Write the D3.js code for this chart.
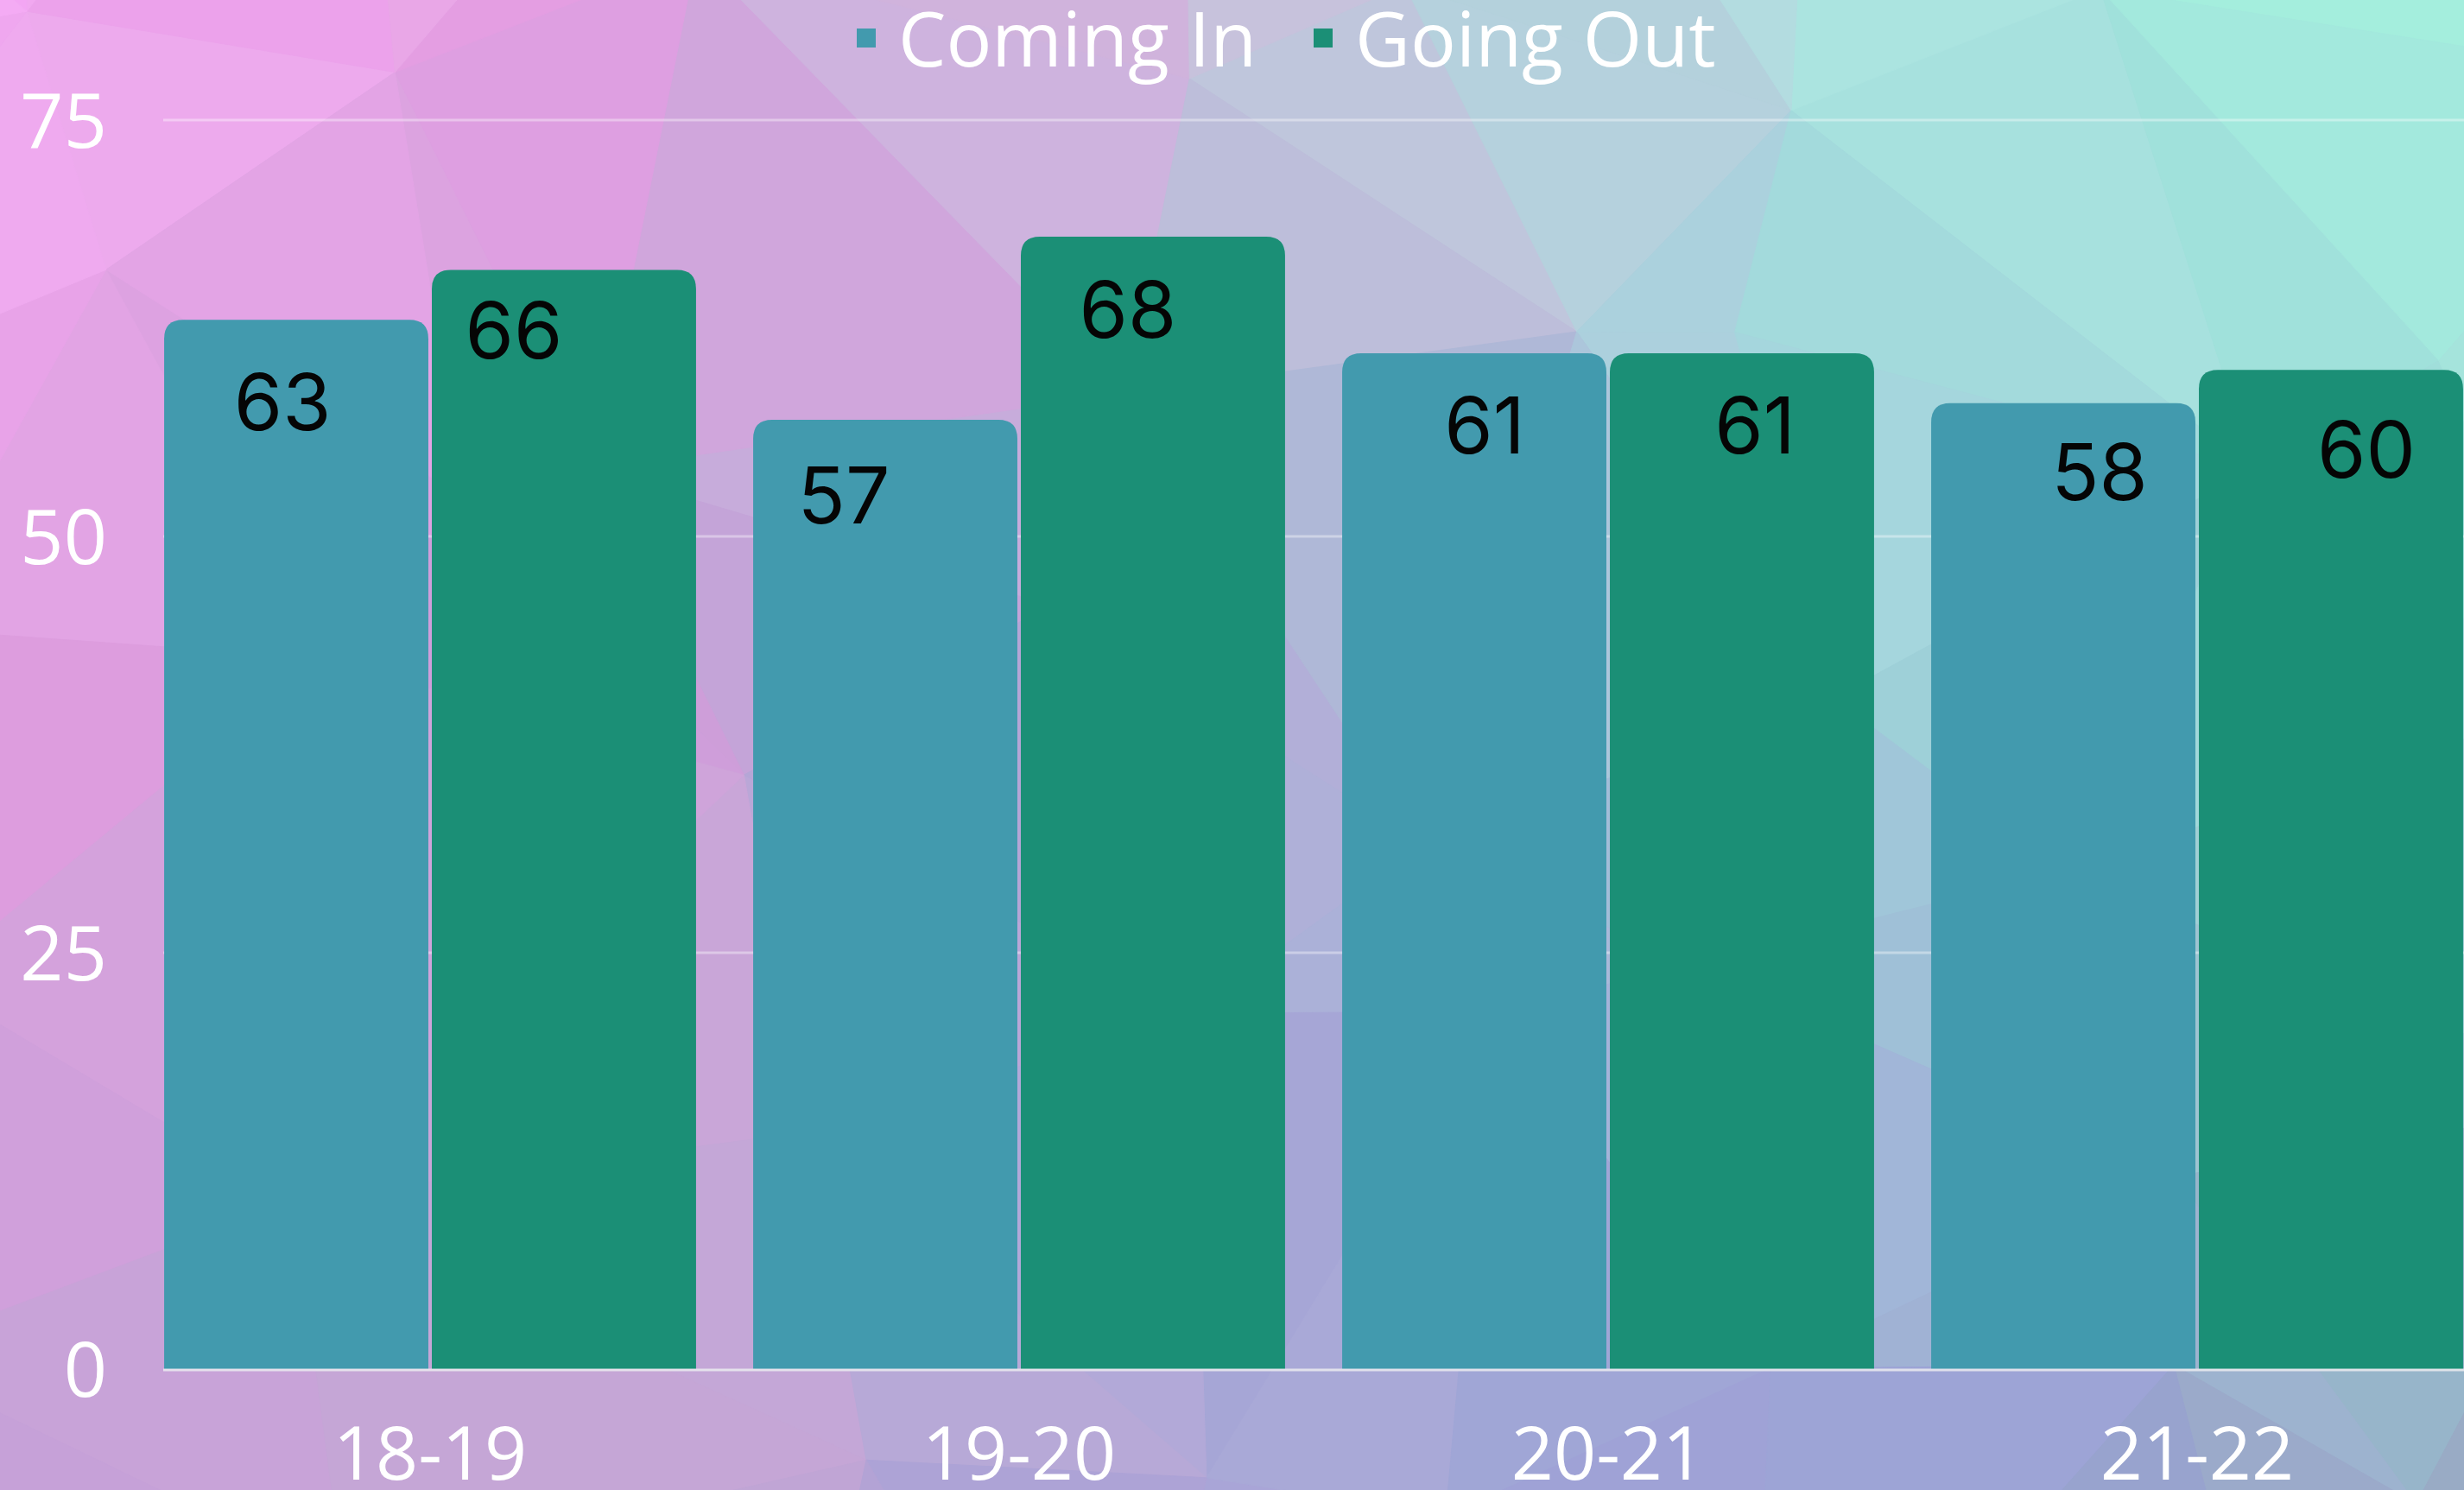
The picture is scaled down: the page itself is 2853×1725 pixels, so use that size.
<!DOCTYPE html>
<html>
<head>
<meta charset="utf-8">
<script src="https://cdn.jsdelivr.net/npm/d3@7"></script>
<style>
  html, body { margin: 0; padding: 0; overflow: hidden; }
  svg { display: block; }
</style>
</head>
<body>
<svg id="chart" width="2853" height="1725"></svg>
<script>
// ---- data ----
var categories = ["18-19", "19-20", "20-21", "21-22"];
var seriesNames = ["Coming In", "Going Out"];
var comingIn = [63, 57, 61, 58];
var goingOut = [66, 68, 61, 60];
var yTicks = [0, 25, 50, 75];

// label nudges (px) as placed in the original, in bar order
var labelDx = [-16, -58, -48, -29, 12, 15, 42, 41];
var labelDy = [128, 102, 120, 117, 116, 116, 112, 125];

var colors = ["#429aae", "#1b8f76"];

var svg = d3.select("#chart"),
    width = +svg.attr("width"),
    height = +svg.attr("height");

// ---- low poly background ----
var gx = [0, 713, 1426, 2140, 2853],
    gy = [0, 862, 1725];
var gridCols = [
  ["#f4aaf4", "#e4a2e2", "#c7bedb", "#a8e2df", "#a6eede"],
  ["#e0a0e0", "#caa2d8", "#afb0d8", "#a2ccda", "#9ed8d8"],
  ["#c6a0d8", "#c4a8d6", "#a6a2d6", "#9ca2d6", "#98aac4"]
];
function colorAt(x, y) {
  x = Math.max(0, Math.min(width, x));
  y = Math.max(0, Math.min(height, y));
  var i = Math.min(gx.length - 2, Math.floor(x / (width / (gx.length - 1))));
  var j = Math.min(gy.length - 2, Math.floor(y / (height / (gy.length - 1))));
  var tx = (x - gx[i]) / (gx[i + 1] - gx[i]),
      ty = (y - gy[j]) / (gy[j + 1] - gy[j]);
  var top = d3.interpolateRgb(gridCols[j][i], gridCols[j][i + 1])(tx),
      bot = d3.interpolateRgb(gridCols[j + 1][i], gridCols[j + 1][i + 1])(tx);
  return d3.interpolateRgb(top, bot)(ty);
}
function hash(n) {
  var s = Math.sin(n * 12.9898 + 78.233) * 43758.5453;
  return s - Math.floor(s);
}
var pts = [];
var step = 420, k = 0;
for (var yy = -step; yy <= height + step; yy += step) {
  for (var xx = -step; xx <= width + step; xx += step) {
    k++;
    pts.push([xx + (hash(k) - 0.5) * step * 0.8, yy + (hash(k + 500) - 0.5) * step * 0.8]);
  }
}
var delaunay = d3.Delaunay.from(pts);
var bg = svg.append("g").attr("class", "bg");
bg.append("rect").attr("width", width).attr("height", height).attr("fill", colorAt(width / 2, height / 2));
var tri = delaunay.triangles;
for (var t = 0; t < tri.length; t += 3) {
  var a = pts[tri[t]], b = pts[tri[t + 1]], c = pts[tri[t + 2]];
  var cx = (a[0] + b[0] + c[0]) / 3, cy = (a[1] + b[1] + c[1]) / 3;
  var col = d3.hsl(colorAt(cx, cy));
  col.l = col.l + (hash(t + 900) - 0.5) * 0.022;
  bg.append("path")
    .attr("d", "M" + a + "L" + b + "L" + c + "Z")
    .attr("fill", col.formatHex())
    .attr("stroke", col.formatHex())
    .attr("stroke-width", 1);
}

// ---- scales ----
var yScale = d3.scaleLinear().domain([0, 75]).range([1585, 139]);
var x0 = d3.scaleBand().domain(categories).range([157, 2885])
    .paddingInner(0.097).paddingOuter(0.0485);
var x1 = d3.scaleBand().domain(seriesNames).range([0, x0.bandwidth()]).paddingInner(0.013);

// ---- gridlines ----
svg.append("g").selectAll("line")
  .data(yTicks.filter(function (d) { return d > 0; }))
  .join("line")
  .attr("x1", 189).attr("x2", width)
  .attr("y1", function (d) { return yScale(d); })
  .attr("y2", function (d) { return yScale(d); })
  .attr("stroke", "rgba(255,255,255,0.38)")
  .attr("stroke-width", 3);

// y axis labels
svg.append("g").selectAll("text")
  .data(yTicks)
  .join("text")
  .attr("x", 124)
  .attr("y", function (d) { return yScale(d) + 32; })
  .attr("text-anchor", "end")
  .attr("font-family", "'Open Sans', sans-serif")
  .attr("font-size", 88)
  .attr("fill", "#ffffff")
  .text(function (d) { return d; });

// ---- bars ----
function roundedTop(x, y, w, h, r) {
  r = Math.min(r, w / 2, h);
  return "M" + x + "," + (y + h) +
    "V" + (y + r) +
    "Q" + x + "," + y + " " + (x + r) + "," + y +
    "H" + (x + w - r) +
    "Q" + (x + w) + "," + y + " " + (x + w) + "," + (y + r) +
    "V" + (y + h) + "Z";
}

var barData = [];
categories.forEach(function (cat, i) {
  barData.push({ cat: cat, s: 0, v: comingIn[i], idx: i * 2 });
  barData.push({ cat: cat, s: 1, v: goingOut[i], idx: i * 2 + 1 });
});

var bars = svg.append("g");
bars.selectAll("path")
  .data(barData)
  .join("path")
  .attr("d", function (d) {
    var x = x0(d.cat) + x1(seriesNames[d.s]);
    var y = yScale(d.v);
    return roundedTop(x, y, x1.bandwidth(), yScale(0) - y, 22);
  })
  .attr("fill", function (d) { return colors[d.s]; });

// zero line
svg.append("line")
  .attr("x1", 189).attr("x2", width)
  .attr("y1", yScale(0) + 1).attr("y2", yScale(0) + 1)
  .attr("stroke", "rgba(235,235,240,0.85)")
  .attr("stroke-width", 3);

// value labels
bars.selectAll("text")
  .data(barData)
  .join("text")
  .attr("x", function (d) { return x0(d.cat) + x1(seriesNames[d.s]) + x1.bandwidth() / 2 + labelDx[d.idx]; })
  .attr("y", function (d) { return yScale(d.v) + labelDy[d.idx]; })
  .attr("text-anchor", "middle")
  .attr("font-family", "Inter, sans-serif")
  .attr("font-size", 91)
  .attr("fill", "#050505")
  .text(function (d) { return d.v; });

// category labels
svg.append("g").selectAll("text")
  .data(categories)
  .join("text")
  .attr("x", function (d) { return x0(d) + x0.bandwidth() / 2; })
  .attr("y", 1713)
  .attr("text-anchor", "middle")
  .attr("font-family", "'Open Sans', sans-serif")
  .attr("font-size", 86)
  .attr("fill", "#ffffff")
  .text(function (d) { return d; });

// ---- legend ----
var legendX = [992, 1521];
var legend = svg.append("g");
seriesNames.forEach(function (name, i) {
  legend.append("rect")
    .attr("x", legendX[i]).attr("y", 33)
    .attr("width", 22).attr("height", 22)
    .attr("fill", colors[i]);
  legend.append("text")
    .attr("x", legendX[i] + 48).attr("y", 77)
    .attr("font-family", "'Open Sans', sans-serif")
    .attr("font-size", 88)
    .attr("fill", "#ffffff")
    .text(name);
});
</script>
</body>
</html>
